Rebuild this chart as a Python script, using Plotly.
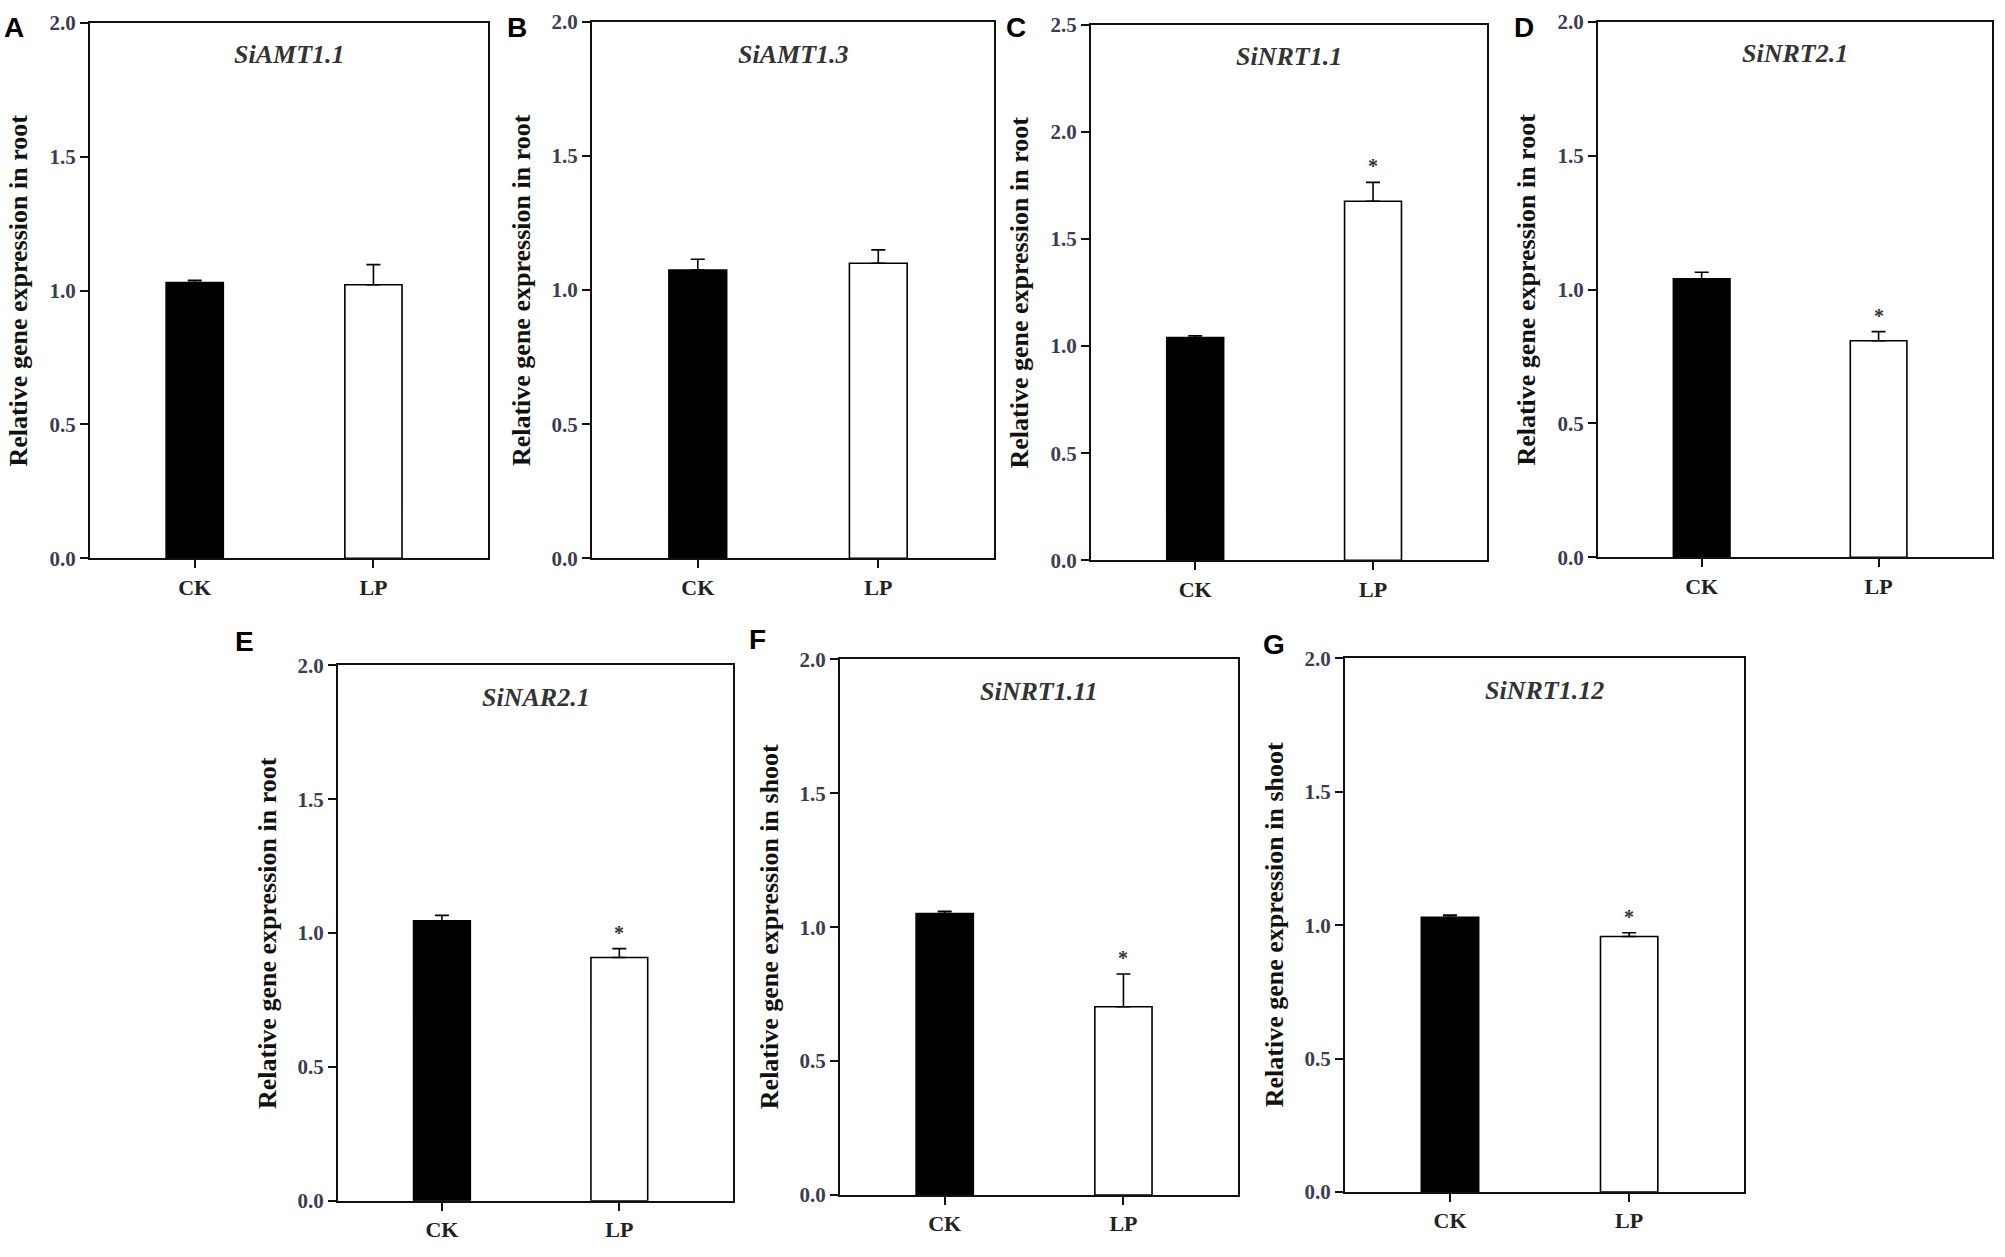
import plotly.graph_objects as go

# data
groups = ["CK", "LP"]
panel_letters = ["A", "B", "C", "D", "E", "F", "G"]
genes = ["SiAMT1.1", "SiAMT1.3", "SiNRT1.1", "SiNRT2.1", "SiNAR2.1", "SiNRT1.11", "SiNRT1.12"]
tissues = ["root", "root", "root", "root", "root", "shoot", "shoot"]
ck_mean = [1.03, 1.075, 1.04, 1.04, 1.046, 1.051, 1.03]
ck_err = [0.008, 0.04, 0.008, 0.025, 0.02, 0.008, 0.008]
lp_mean = [1.022, 1.10, 1.676, 0.809, 0.909, 0.703, 0.958]
lp_err = [0.075, 0.05, 0.088, 0.034, 0.033, 0.122, 0.014]
significant = [False, False, True, True, True, True, True]
y_max = [2.0, 2.0, 2.5, 2.0, 2.0, 2.0, 2.0]

W, H = 2005, 1257
# panel boxes in pixels: left, right, top, bottom
boxes = [
    (90, 488, 11, 557),
    (592, 994, 10, 557),
    (1091, 1487, 13, 559),
    (1598, 1992, 10, 556),
    (338, 733, 666, 1212),
    (840, 1238, 660, 1206),
    (1345, 1744, 659, 1203),
]
letter_pos = [(14, 16), (517, 16), (1016, 16), (1524, 16), (244, 642), (757, 640), (1274, 645)]

serif = "Liberation Serif"
fig = go.Figure()
layout = dict(
    width=W, height=H,
    margin=dict(l=0, r=0, t=0, b=0),
    paper_bgcolor="white", plot_bgcolor="white",
    showlegend=False,
    annotations=[],
)

for i in range(7):
    n = "" if i == 0 else str(i + 1)
    xa, ya = "x" + n, "y" + n
    l, r, t, b = boxes[i]

    fig.add_trace(go.Bar(
        x=groups, y=[ck_mean[i], lp_mean[i]],
        xaxis=xa, yaxis=ya, width=0.32,
        marker=dict(color=["black", "white"], line=dict(color="black", width=1.6)),
        error_y=dict(type="data", symmetric=False,
                     array=[ck_err[i], lp_err[i]], arrayminus=[0, 0],
                     color="black", thickness=1.6, width=7),
    ))

    layout["xaxis" + n] = dict(
        domain=[l / W, r / W], anchor=ya, type="category",
        range=[-0.586, 1.641], showgrid=False, zeroline=False,
        showline=True, mirror=True, linecolor="#111", linewidth=2,
        ticks="outside", ticklen=8, tickwidth=1.5, tickcolor="#111",
        tickfont=dict(family=serif, size=22, color="#222", weight="bold"),
    )
    layout["yaxis" + n] = dict(
        domain=[1 - b / H, 1 - t / H], anchor=xa,
        range=[0, y_max[i]], dtick=0.5, tickformat=".1f",
        showgrid=False, zeroline=False,
        showline=True, mirror=True, linecolor="#111", linewidth=2,
        ticks="outside", ticklen=8, tickwidth=1.5, tickcolor="#111",
        tickfont=dict(family=serif, size=21, color="#3a3d52", weight="bold"),
    )

    ann = layout["annotations"]
    # gene name
    ann.append(dict(text="<i>" + genes[i] + "</i>", xref=xa + " domain", yref=ya + " domain",
                    x=0.5, y=0.94, xanchor="center", yanchor="middle", showarrow=False,
                    font=dict(family=serif, size=26, color="#333", weight="bold")))
    # y title
    ann.append(dict(text="Relative gene expression in " + tissues[i],
                    xref=xa + " domain", yref=ya + " domain", x=0, y=0.5,
                    xanchor="center", yanchor="middle",
                    xshift=-71, textangle=-90, showarrow=False,
                    font=dict(family=serif, size=26, color="#111", weight="bold")))
    # panel letter
    lx, ly = letter_pos[i]
    ann.append(dict(text=panel_letters[i], xref="paper", yref="paper",
                    x=lx / W, y=1 - ly / H, showarrow=False,
                    xanchor="center", yanchor="middle",
                    font=dict(family="Liberation Sans", size=28, color="black", weight="bold")))
    # significance star
    if significant[i]:
        ann.append(dict(text="*", xref=xa, yref=ya, x="LP", y=lp_mean[i] + lp_err[i],
                        yanchor="bottom", showarrow=False, yshift=3,
                        font=dict(family=serif, size=20, color="#333", weight="bold")))

fig.update_layout(**layout)
# drop the browser's default 8px body margin so pixel positions line up with the page
fig.write_html("out.html", config={"displayModeBar": False},
               post_script="document.body.style.margin='0px';")
